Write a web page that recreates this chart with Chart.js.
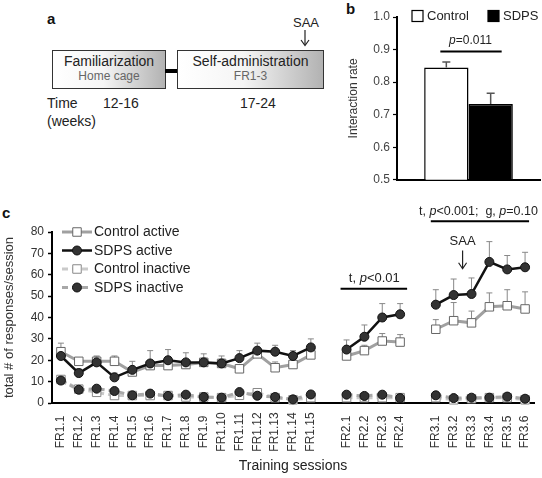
<!DOCTYPE html>
<html>
<head>
<meta charset="utf-8">
<script src="https://cdn.jsdelivr.net/npm/chart.js@4.4.1/dist/chart.umd.min.js"></script>
<style>
  html, body { margin: 0; padding: 0; background: #fff; }
  body { width: 542px; height: 478px; position: relative; overflow: hidden;
         font-family: "Liberation Sans", Arial, sans-serif; color: #222; }
  .lbl { position: absolute; font-weight: bold; font-size: 15px; line-height: 18px; color: #111; }
  .txt { position: absolute; font-size: 14px; line-height: 16px; color: #222; white-space: nowrap; }
  .box { position: absolute; top: 50px; height: 39px; box-sizing: border-box; border: 1.5px solid #333;
         background: linear-gradient(to right, #fff 0%, #f5f5f5 45%, #b2b2b2 100%); text-align: center; }
  .box .big { font-size: 14px; line-height: 16px; margin-top: 2px; color: #222; }
  .box .small { font-size: 12px; line-height: 14px; color: #666; }
  canvas { position: absolute; }
</style>
</head>
<body>

<!-- panel a: timeline -->
<div class="lbl" style="left:47px;top:10px;">a</div>
<div class="box" style="left:52px;width:114px;">
  <div class="big">Familiarization</div>
  <div class="small">Home cage</div>
</div>
<div style="position:absolute;left:165px;top:69px;width:13px;height:4px;background:#000;"></div>
<div class="box" style="left:177px;width:147px;">
  <div class="big">Self-administration</div>
  <div class="small">FR1-3</div>
</div>
<div class="txt" style="left:293px;top:15px;font-size:13px;">SAA</div>
<svg style="position:absolute;left:298px;top:29px;" width="14" height="18">
  <line x1="7" y1="1" x2="7" y2="16" stroke="#222" stroke-width="1.2"/>
  <polyline points="3,11 7,16.5 11,11" fill="none" stroke="#222" stroke-width="1.2"/>
</svg>
<div class="txt" style="left:47px;top:95px;">Time</div>
<div class="txt" style="left:47px;top:113px;">(weeks)</div>
<div class="txt" style="left:103px;top:95px;">12-16</div>
<div class="txt" style="left:240px;top:95px;">17-24</div>

<!-- panel b -->
<div class="lbl" style="left:346px;top:0px;">b</div>
<canvas id="chartB" width="212" height="190" style="left:330px;top:0px;"></canvas>

<!-- panel c -->
<div class="lbl" style="left:2px;top:204px;">c</div>
<canvas id="chartC" width="542" height="288" style="left:0px;top:190px;"></canvas>

<script>
// --- DATA: panel b ---
const groups = ['Control', 'SDPS'];
const interactionRate = [0.845, 0.733];
const interactionSem = [0.017, 0.033];

// --- DATA: panel c ---
const sessionLabels = [
  'FR1.1', 'FR1.2', 'FR1.3', 'FR1.4', 'FR1.5', 'FR1.6', 'FR1.7', 'FR1.8', 'FR1.9', 'FR1.10',
  'FR1.11', 'FR1.12', 'FR1.13', 'FR1.14', 'FR1.15', '',
  'FR2.1', 'FR2.2', 'FR2.3', 'FR2.4', '',
  'FR3.1', 'FR3.2', 'FR3.3', 'FR3.4', 'FR3.5', 'FR3.6'
];
const controlActive = [24, 19.5, 19.5, 19.5, 14.5, 17.5, 17.5, 18, 19, 18.5, 16, 23, 16.5, 18, 22.5, null,
  22, 24.5, 29, 28.5, null, 34.5, 38.5, 37.5, 45, 45.5, 44];
const controlActiveSem = [4, 1.5, 2, 2.5, 2, 2, 2, 2, 2, 2, 2, 2.5, 2.7, 2, 2, null,
  2.5, 2.5, 3.5, 3.5, null, 4.5, 8.5, 5.5, 6.5, 7.5, 8];
const sdpsActive = [22, 14, 19, 12, 15.5, 18.5, 20, 19, 19, 18.5, 21, 24.5, 24, 22, 26, null,
  25, 31, 40, 41.5, null, 46, 50.5, 51, 66, 62.5, 63.5];
const sdpsActiveSem = [2, 2, 3, 2, 4, 6, 5, 4.5, 4, 3.5, 3.5, 3.5, 3, 2.5, 4, null,
  4.5, 5.5, 6.5, 5, null, 7, 7.5, 7.5, 9.5, 6.5, 7];
const controlInactive = [11, 6.5, 5, 3.5, 3.5, 3.5, 3.5, 2.8, 2.8, 2.5, 3.6, 4.8, 2.5, 1.5, 2.5, null,
  2.5, 2.5, 2.5, 2.5, null, 2.5, 1.5, 2, 2.5, 2.5, 1.5];
const sdpsInactive = [10.5, 6.2, 6.7, 5.6, 3.6, 4.4, 3.3, 3.9, 2.8, 2.5, 5.1, 3.4, 2.8, 1.7, 4, null,
  3.9, 3.3, 3.9, 2.3, null, 3.6, 2.3, 2.5, 2.5, 3, 2];

const FONT = '"Liberation Sans", Arial, sans-serif';
Chart.defaults.font.family = FONT;
Chart.defaults.animation = false;

// draw a line of text made of normal / italic parts, centred on cx
function richText(ctx, parts, cx, cy, size) {
  const fonts = parts.map(p => (p[1] ? 'italic ' : '') + size + 'px ' + FONT);
  let w = 0;
  parts.forEach((p, i) => { ctx.font = fonts[i]; w += ctx.measureText(p[0]).width; });
  let x = cx - w / 2;
  ctx.textAlign = 'left';
  ctx.textBaseline = 'middle';
  parts.forEach((p, i) => {
    ctx.font = fonts[i];
    ctx.fillText(p[0], x, cy);
    x += ctx.measureText(p[0]).width;
  });
}

function hLine(ctx, x1, x2, y, w) {
  ctx.beginPath();
  ctx.lineWidth = w;
  ctx.strokeStyle = '#000';
  ctx.moveTo(x1, y);
  ctx.lineTo(x2, y);
  ctx.stroke();
}

// --- PANEL B ---
const panelB = {
  id: 'panelB',
  afterDatasetsDraw(chart) {
    const ctx = chart.ctx, y = chart.scales.y, a = chart.chartArea;
    const bars = chart.data.datasets.map((ds, i) => chart.getDatasetMeta(i).data[0]);

    // error bars
    ctx.save();
    ctx.strokeStyle = '#555';
    ctx.lineWidth = 1.5;
    chart.data.datasets.forEach((ds, i) => {
      const b = bars[i];
      const top = y.getPixelForValue(ds.data[0] + ds.sem);
      ctx.beginPath();
      ctx.moveTo(b.x, b.y);
      ctx.lineTo(b.x, top);
      ctx.moveTo(b.x - 4, top);
      ctx.lineTo(b.x + 4, top);
      ctx.stroke();
    });

    // significance bracket
    const ly = y.getPixelForValue(0.894);
    hLine(ctx, bars[0].x - 6, bars[1].x + 11, ly, 2);
    ctx.fillStyle = '#222';
    richText(ctx, [['p', true], ['=0.011', false]], (bars[0].x + bars[1].x) / 2 + 2, ly - 11, 12);

    // legend
    ctx.font = '13px ' + FONT;
    ctx.textBaseline = 'middle';
    ctx.textAlign = 'left';
    const ry = 16;
    const lx = [a.left + 15, a.left + 91];
    chart.data.datasets.forEach((ds, i) => {
      ctx.fillStyle = ds.backgroundColor;
      ctx.fillRect(lx[i], ry - 5.5, 11, 11);
      ctx.lineWidth = 1.2;
      ctx.strokeStyle = '#000';
      ctx.strokeRect(lx[i], ry - 5.5, 11, 11);
      ctx.fillStyle = '#222';
      ctx.fillText(ds.label, lx[i] + 15, ry + 0.5);
    });
    ctx.restore();
  }
};

new Chart(document.getElementById('chartB'), {
  type: 'bar',
  data: {
    labels: [''],
    datasets: [
      { label: groups[0], data: [interactionRate[0]], sem: interactionSem[0],
        backgroundColor: '#fff', borderColor: '#000', borderWidth: 1.5 },
      { label: groups[1], data: [interactionRate[1]], sem: interactionSem[1],
        backgroundColor: '#000', borderColor: '#000', borderWidth: 1.5 }
    ]
  },
  options: {
    responsive: false,
    events: [],
    layout: { padding: { left: 12, right: 2, top: 17, bottom: 0 } },
    datasets: { bar: { categoryPercentage: 0.62, barPercentage: 1.0 } },
    plugins: { legend: { display: false }, tooltip: { enabled: false } },
    scales: {
      x: {
        ticks: { display: false },
        grid: { drawOnChartArea: false, drawTicks: false },
        border: { color: '#000', width: 2 },
        afterFit: s => { s.height = 10; }
      },
      y: {
        min: 0.5, max: 1.0,
        ticks: {
          stepSize: 0.05, color: '#444', padding: 3, font: { size: 12 },
          callback: v => (Math.round(v * 20) % 2 === 0 ? v.toFixed(1) : '')
        },
        grid: { drawOnChartArea: false, tickLength: 4, color: '#000', tickWidth: 1.2 },
        border: { color: '#000', width: 2 },
        title: { display: true, text: 'Interaction rate', color: '#333', font: { size: 12 }, padding: { top: 4, bottom: 2 } },
        afterFit: s => { s.width = 55; }
      }
    }
  },
  plugins: [panelB]
});

// --- PANEL C ---
const panelC = {
  id: 'panelC',
  beforeDatasetsDraw(chart) {
    // error bars (upper side), drawn under the lines
    const ctx = chart.ctx, y = chart.scales.y;
    ctx.save();
    ctx.strokeStyle = '#888';
    ctx.lineWidth = 1;
    chart.data.datasets.forEach((ds, i) => {
      if (!ds.sem) return;
      const meta = chart.getDatasetMeta(i);
      meta.data.forEach((pt, j) => {
        const v = ds.data[j], e = ds.sem[j];
        if (v == null || e == null) return;
        const top = y.getPixelForValue(v + e);
        ctx.beginPath();
        ctx.moveTo(pt.x, y.getPixelForValue(v));
        ctx.lineTo(pt.x, top);
        ctx.moveTo(pt.x - 3, top);
        ctx.lineTo(pt.x + 3, top);
        ctx.stroke();
      });
    });
    ctx.restore();
  },
  afterDraw(chart) {
    const ctx = chart.ctx, a = chart.chartArea, xs = chart.scales.x, y = chart.scales.y;
    ctx.save();

    // vertical session labels
    ctx.fillStyle = '#333';
    ctx.font = '12px ' + FONT;
    ctx.textAlign = 'center';
    ctx.textBaseline = 'middle';
    sessionLabels.forEach((lab, i) => {
      if (!lab) return;
      ctx.save();
      ctx.translate(xs.getPixelForValue(i), a.bottom + 29);
      ctx.rotate(-Math.PI / 2);
      ctx.fillText(lab, 0, 0);
      ctx.restore();
    });

    // legend
    chart.data.datasets.forEach((ds, k) => {
      const ry = a.top + k * 18.5;
      const x0 = a.left + 10, x1 = a.left + 40, mx = a.left + 25;
      ctx.beginPath();
      ctx.setLineDash(ds.borderDash || []);
      ctx.strokeStyle = ds.borderColor;
      ctx.lineWidth = ds.borderWidth;
      ctx.moveTo(x0, ry);
      ctx.lineTo(x1, ry);
      ctx.stroke();
      ctx.setLineDash([]);
      ctx.fillStyle = ds.pointBackgroundColor;
      ctx.strokeStyle = ds.pointBorderColor;
      ctx.lineWidth = ds.pointBorderWidth;
      ctx.beginPath();
      if (ds.pointStyle === 'rect') {
        const s = ds.pointRadius * Math.SQRT1_2;
        ctx.rect(mx - s, ry - s, 2 * s, 2 * s);
      } else {
        ctx.arc(mx, ry, ds.pointRadius, 0, Math.PI * 2);
      }
      ctx.fill();
      ctx.stroke();
      ctx.fillStyle = '#222';
      ctx.font = '14px ' + FONT;
      ctx.textAlign = 'left';
      ctx.fillText(ds.label, a.left + 42, ry + 0.5);
    });

    // statistics annotations
    ctx.fillStyle = '#222';
    const y1 = y.getPixelForValue(53.5);
    hLine(ctx, xs.getPixelForValue(16) - 6, xs.getPixelForValue(19) + 7, y1, 2);
    richText(ctx, [['t, ', false], ['p', true], ['<0.01', false]],
      (xs.getPixelForValue(16) + xs.getPixelForValue(19)) / 2 + 1, y1 - 10, 13);

    const y2 = y.getPixelForValue(85);
    hLine(ctx, xs.getPixelForValue(21) - 5, xs.getPixelForValue(26) + 4, y2, 2);
    richText(ctx, [['t, ', false], ['p', true], ['<0.001;  g, ', false], ['p', true], ['=0.10', false]],
      (xs.getPixelForValue(21) + xs.getPixelForValue(26)) / 2 - 2, y2 - 10, 12.5);

    // SAA arrow
    const ax = (xs.getPixelForValue(22) + xs.getPixelForValue(23)) / 2;
    richText(ctx, [['SAA', false]], ax, y.getPixelForValue(75.7), 13);
    const ay0 = y.getPixelForValue(71.3), ay1 = y.getPixelForValue(62.8);
    ctx.beginPath();
    ctx.strokeStyle = '#222';
    ctx.lineWidth = 1.2;
    ctx.moveTo(ax, ay0);
    ctx.lineTo(ax, ay1);
    ctx.moveTo(ax - 4, ay1 - 6);
    ctx.lineTo(ax, ay1);
    ctx.lineTo(ax + 4, ay1 - 6);
    ctx.stroke();

    ctx.restore();
  }
};

new Chart(document.getElementById('chartC'), {
  type: 'line',
  data: {
    labels: sessionLabels,
    datasets: [
      { label: 'Control active', data: controlActive, sem: controlActiveSem, order: 1,
        borderColor: '#a0a0a0', borderWidth: 3, pointStyle: 'rect', pointRadius: 6,
        pointBackgroundColor: '#fff', pointBorderColor: '#666', pointBorderWidth: 1 },
      { label: 'SDPS active', data: sdpsActive, sem: sdpsActiveSem, order: 0,
        borderColor: '#111', borderWidth: 2.5, pointStyle: 'circle', pointRadius: 4.5,
        pointBackgroundColor: '#333', pointBorderColor: '#111', pointBorderWidth: 1 },
      { label: 'Control inactive', data: controlInactive, order: 3,
        borderColor: '#cacaca', borderWidth: 3, borderDash: [6, 4], pointStyle: 'rect', pointRadius: 6,
        pointBackgroundColor: '#fff', pointBorderColor: '#888', pointBorderWidth: 1 },
      { label: 'SDPS inactive', data: sdpsInactive, order: 2,
        borderColor: '#a8a8a8', borderWidth: 3, borderDash: [6, 4], pointStyle: 'circle', pointRadius: 4.5,
        pointBackgroundColor: '#333', pointBorderColor: '#111', pointBorderWidth: 1 }
    ]
  },
  options: {
    responsive: false,
    events: [],
    spanGaps: false,
    layout: { padding: { left: 0, right: 8, top: 42, bottom: 0 } },
    datasets: { line: { tension: 0, clip: false } },
    plugins: { legend: { display: false }, tooltip: { enabled: false } },
    scales: {
      x: {
        offset: true,
        ticks: { display: false, autoSkip: false },
        grid: { drawOnChartArea: false, drawTicks: false },
        border: { color: '#000', width: 2 },
        title: { display: true, text: 'Training sessions', color: '#222', font: { size: 14 }, padding: { top: 0, bottom: 3 } },
        afterFit: s => { s.height = 75; }
      },
      y: {
        min: 0, max: 80,
        ticks: { stepSize: 10, color: '#333', padding: 4, font: { size: 12 } },
        grid: { drawOnChartArea: false, tickLength: 4, color: '#000', tickWidth: 1.5 },
        border: { color: '#000', width: 2 },
        title: { display: true, text: 'total # of responses/session', color: '#333', font: { size: 13 }, padding: { top: 2, bottom: 2 } },
        afterFit: s => { s.width = 52; }
      }
    }
  },
  plugins: [panelC]
});
</script>
</body>
</html>
